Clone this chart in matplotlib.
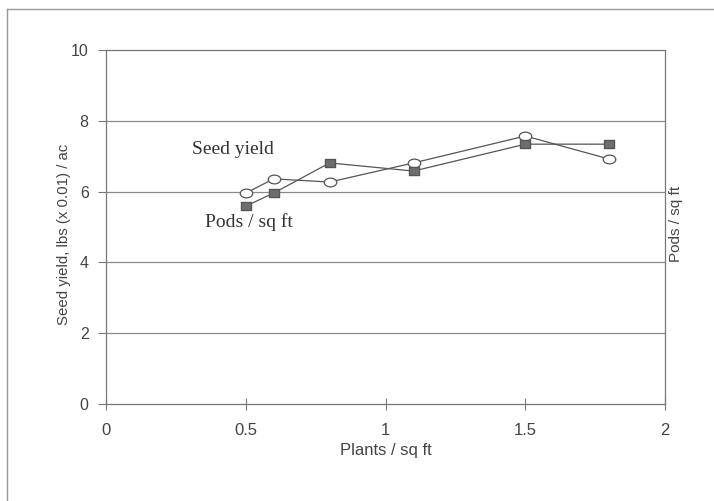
import matplotlib
matplotlib.use("Agg")
import matplotlib.pyplot as plt
from matplotlib.path import Path
from matplotlib.markers import MarkerStyle
from matplotlib.transforms import Affine2D
from matplotlib.lines import Line2D

plants = [0.5, 0.6, 0.8, 1.1, 1.5, 1.8]
seed_yield = [5.96, 6.36, 6.27, 6.81, 7.57, 6.92]   # open circles
pods = [5.59, 5.96, 6.81, 6.58, 7.34, 7.34]          # filled squares
x_ticks = [0, 0.5, 1, 1.5, 2]
x_tick_labels = ["0", "0.5", "1", "1.5", "2"]
y_ticks = [0, 2, 4, 6, 8, 10]

fig = plt.figure(figsize=(7.14, 5.01), dpi=100)
ax = fig.add_axes([0.1485, 0.1936, 0.783, 0.7066])

txt = "#444444"
grid_c = "#8a8a8a"
line_c = "#555555"

ax.set_xlim(0, 2)
ax.set_ylim(0, 10)
ax.set_xticks(x_ticks)
ax.set_xticklabels(x_tick_labels)
ax.set_yticks(y_ticks)
for y in y_ticks[1:-1]:
    ax.axhline(y, color=grid_c, lw=0.9, zorder=0)

ellipse = Path.unit_circle().transformed(Affine2D().scale(1.0, 0.70))
rect = Path.unit_rectangle().transformed(Affine2D().translate(-0.5, -0.5).scale(1.0, 0.8))
ax.plot(plants, seed_yield, color=line_c, lw=0.9,
        marker=MarkerStyle(ellipse), markersize=9, markerfacecolor="white",
        markeredgecolor=line_c, markeredgewidth=0.9, zorder=3)
ax.plot(plants, pods, color=line_c, lw=0.9, marker=MarkerStyle(rect),
        markersize=7, markerfacecolor="#6e6e6e", markeredgecolor="#555555",
        zorder=4)

ax.text(0.308, 7.18, "Seed yield", family="Liberation Serif", fontsize=14,
        color="#333333", va="center", ha="left")
ax.text(0.354, 5.14, "Pods / sq ft", family="Liberation Serif", fontsize=14,
        color="#333333", va="center", ha="left")

for s in ax.spines.values():
    s.set_color("#777777")
    s.set_linewidth(0.9)

ax.tick_params(axis="y", direction="out", length=6, width=0.8, color="#777777",
               labelsize=11.5, labelcolor=txt, pad=6.5)
ax.tick_params(axis="x", direction="inout", length=8, width=0.8, color="#777777",
               labelsize=12, labelcolor=txt, pad=10)
for lab in ax.get_xticklabels() + ax.get_yticklabels():
    lab.set_family("Liberation Sans")

ax.set_xlabel("Plants / sq ft", family="Liberation Sans", fontsize=12,
              color=txt)
ax.xaxis.set_label_coords(0.5, -0.111)
ax.set_ylabel("Seed yield, lbs (x 0.01) / ac", family="Liberation Sans",
              fontsize=10.8, color=txt)
ax.yaxis.set_label_coords(-0.062, 0.48)

fig.text(676 / 714, 1 - 224 / 501, "Pods / sq ft", family="Liberation Sans",
         fontsize=11, color=txt, rotation=90, va="center", ha="center")

# scanned page frame (left and top)
fig.add_artist(Line2D([0.010, 0.010], [0.0, 0.982], transform=fig.transFigure,
                      color="#999999", lw=1.0))
fig.add_artist(Line2D([0.010, 1.0], [0.982, 0.982], transform=fig.transFigure,
                      color="#999999", lw=1.0))

fig.savefig("out.png", dpi=100, facecolor="white")
